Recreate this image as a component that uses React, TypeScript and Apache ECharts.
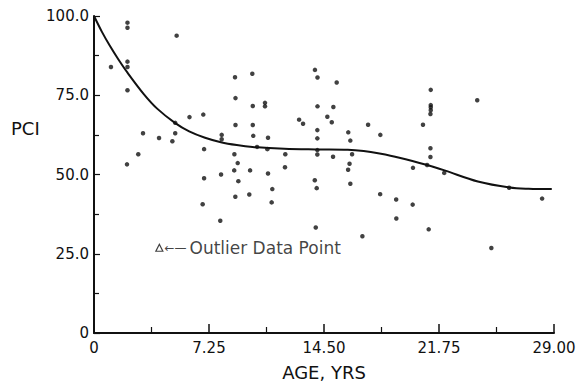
import React, { useEffect, useRef } from "react";
import * as echarts from "echarts";

// Observed data points: [age (yrs), PCI]
const ages = [
  1.07, 2.11, 2.11, 2.11, 2.11, 2.11, 2.08, 2.79, 3.09, 4.1, 4.94, 5.12, 5.12, 5.21, 6.02, 6.89, 6.94, 6.94, 6.85,
  8.05, 8.05, 8.01, 7.96, 8.89, 8.92, 8.92, 8.85, 9.06, 8.84, 9.1, 8.91, 9.79, 9.84, 9.98, 10.01, 10.01, 10.04,
  10.28, 10.78, 10.78, 10.97, 10.93, 10.97, 11.24, 11.2, 12.06, 12.04, 12.93, 13.18, 13.93, 14.09, 14.09, 14.08,
  14.08, 14.08, 14.08, 13.92, 14.04, 13.98, 14.71, 14.99, 15.09, 15.3, 15.07, 16.03, 16.16, 16.27, 16.11, 16.02,
  16.16, 16.92, 17.28, 18.05, 18.04, 19.05, 19.06, 20.11, 20.09, 20.74, 21.23, 21.23, 21.23, 21.23, 21.21, 21.21,
  21.21, 21.1, 21.0, 22.08, 24.16, 25.05, 26.17, 28.25,
];
const pci = [
  83.9, 97.9, 96.3, 85.6, 83.9, 76.6, 53.2, 56.4, 63.0, 61.5, 60.5, 63.0, 66.3, 93.8, 68.1, 68.9, 58.0, 48.8, 40.6,
  62.5, 61.1, 50.0, 35.4, 80.7, 74.1, 65.6, 56.4, 53.6, 51.3, 47.9, 43.0, 43.7, 51.3, 81.8, 71.6, 65.6, 62.2,
  58.7, 72.6, 71.5, 61.6, 58.0, 50.3, 45.4, 41.2, 56.4, 52.3, 67.3, 66.0, 83.0, 80.6, 71.5, 64.0,
  61.4, 57.7, 56.3, 48.2, 45.7, 33.3, 68.2, 66.5, 71.3, 79.0, 55.6, 63.3, 60.7, 56.4, 53.4, 51.5,
  47.1, 30.5, 65.7, 62.5, 43.8, 42.1, 36.1, 52.1, 40.5, 65.7, 76.7, 71.9, 71.2, 70.3, 69.1, 58.3,
  55.5, 32.7, 53.0, 50.5, 73.4, 26.8, 45.8, 42.4,
];

// Fitted curve
const curveAges = [0, 0.5, 1.0, 1.5, 2.1, 3.15, 4.0, 5.1, 6.0, 7.0, 8.0, 9.0, 10.0, 12.0, 14.0, 16.0, 17.0, 18.0, 19.25, 21.0, 22.1, 24.2, 26.2, 27.4, 28.86];
const curvePci = [100, 95.0, 90.6, 86.6, 82.2, 75.3, 70.7, 66.3, 63.6, 61.6, 60.2, 59.3, 58.7, 58.1, 57.9, 57.8, 57.4, 56.6, 55.3, 53.0, 51.3, 47.8, 45.9, 45.5, 45.4];

// Outlier
const outlierAge = [4.12];
const outlierPci = [26.9];

const xTicks = [0, 7.25, 14.5, 21.75, 29];
const yTicks = [0, 25, 50, 75, 100];

const FONT = "DejaVu Sans";

export default function App() {
  const ref = useRef<HTMLDivElement>(null);
  useEffect(() => {
    if (!ref.current) return;
    const chart = echarts.init(ref.current, null, { renderer: "svg" });
    chart.setOption({
      animation: false,
      backgroundColor: "#ffffff",
      grid: { left: 94, top: 16, right: 28, bottom: 53 },
      xAxis: {
        type: "value",
        min: xTicks[0],
        max: xTicks[xTicks.length - 1],
        interval: 7.25,
        name: "AGE, YRS",
        nameLocation: "middle",
        nameGap: 30,
        nameTextStyle: { fontFamily: FONT, fontSize: 18, color: "#111" },
        axisLine: { lineStyle: { color: "#111", width: 2 } },
        axisTick: { inside: true, length: 9, lineStyle: { color: "#111", width: 1.5 } },
        minorTick: { show: true, splitNumber: 2, length: 6, lineStyle: { color: "#111", width: 1.2 } },
        splitLine: { show: false },
        axisLabel: {
          fontFamily: FONT,
          fontSize: 15,
          color: "#111",
          margin: 7,
          formatter: (v: number) => (v === 0 ? "0" : v.toFixed(2)),
        },
      },
      yAxis: {
        type: "value",
        min: yTicks[0],
        max: yTicks[yTicks.length - 1],
        interval: 25,
        axisLine: { show: true, lineStyle: { color: "#111", width: 2 } },
        axisTick: { show: true, inside: true, length: 6, lineStyle: { color: "#111", width: 1.2 } },
        minorTick: { show: true, splitNumber: 2, length: 5, lineStyle: { color: "#111", width: 1.2 } },
        splitLine: { show: false },
        axisLabel: {
          fontFamily: FONT,
          fontSize: 15,
          color: "#111",
          margin: 5,
          formatter: (v: number) => (v === 0 ? "0" : v.toFixed(1)),
        },
      },
      graphic: [
        {
          type: "text",
          left: 11,
          top: 119,
          style: { text: "PCI", fontFamily: FONT, fontSize: 18, fill: "#111" },
        },
      ],
      series: [
        {
          type: "line",
          data: curveAges.map((a, i) => [a, curvePci[i]]),
          smooth: 0.35,
          showSymbol: false,
          lineStyle: { color: "#111", width: 2 },
          z: 2,
        },
        {
          type: "scatter",
          data: ages.map((a, i) => [a, pci[i]]),
          symbol: "circle",
          symbolSize: 4.5,
          itemStyle: { color: "#111" },
          z: 3,
        },
        {
          type: "scatter",
          data: outlierAge.map((a, i) => [a, outlierPci[i]]),
          symbol: "triangle",
          symbolSize: 7,
          itemStyle: { color: "#fff", borderColor: "#111", borderWidth: 1.2 },
          label: {
            show: true,
            position: "right",
            distance: 1,
            formatter: "{a|\u2190\u2014}{b|Outlier Data Point}",
            rich: {
              a: { fontFamily: FONT, fontSize: 12, color: "#111" },
              b: { fontFamily: FONT, fontSize: 17, color: "#111", padding: [0, 0, 0, 3] },
            },
          },
          z: 3,
        },
      ],
    });
    return () => chart.dispose();
  }, []);
  return (
    <div
      ref={ref}
      style={{ position: "absolute", left: 0, top: 0, width: 582, height: 386 }}
    />
  );
}
